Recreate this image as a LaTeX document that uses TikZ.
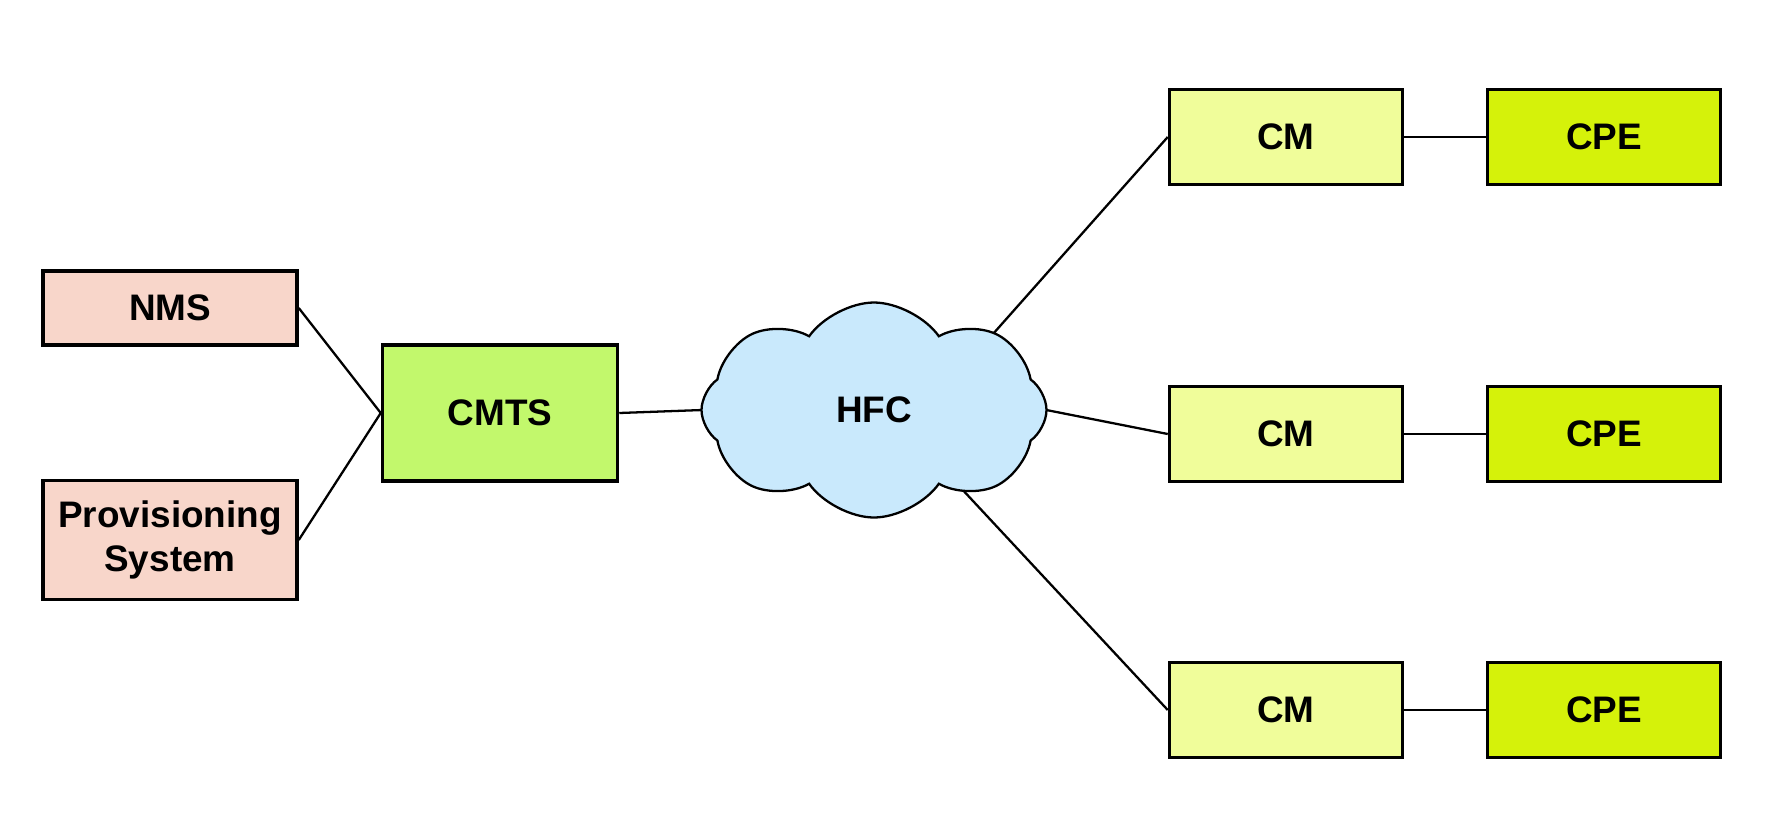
\documentclass[tikz,border=0pt]{standalone}
\usepackage{fontspec}
\setmainfont{Liberation Sans}
\usetikzlibrary{shapes.symbols,backgrounds}
\definecolor{mgmtpink}{HTML}{F8D6CA}
\definecolor{cmtsgreen}{HTML}{C2F86C}
\definecolor{hfcblue}{HTML}{C9E9FC}
\definecolor{cmyellow}{HTML}{F0FD9A}
\definecolor{cpegreen}{HTML}{D5F20A}
\tikzset{
    box/.style={draw,line width=1pt,align=center,inner sep=0pt,font=\fontsize{10.5}{12.6}\selectfont\bfseries},
    cmbox/.style={box,fill=cmyellow,minimum width=2.33cm,minimum height=0.95cm},
    cpebox/.style={box,fill=cpegreen,minimum width=2.33cm,minimum height=0.95cm},
    link/.style={line width=0.65pt}
}
\begin{document}
\begin{tikzpicture}
    \useasboundingbox (0,0) rectangle (17.72,8.33);
    \node[box,fill=mgmtpink,minimum width=2.54cm,minimum height=0.74cm] (nms) at (1.70,5.25) {NMS};
    \node[box,fill=mgmtpink,minimum width=2.54cm,minimum height=1.19cm] (prov) at (1.70,2.93) {Provisioning\\System};
    \node[box,fill=cmtsgreen,minimum width=2.35cm,minimum height=1.36cm] (cmts) at (5.00,4.20) {CMTS};
    \node[cloud,cloud puffs=8,cloud puff arc=110,draw,line width=0.65pt,fill=hfcblue,inner sep=0pt,minimum width=3.45cm,minimum height=2.15cm,font=\fontsize{10.5}{12.6}\selectfont\bfseries] (hfc) at (8.74,4.23) {HFC};
    \node[cmbox] (cm1) at (12.86,6.96) {CM};
    \node[cmbox] (cm2) at (12.86,3.99) {CM};
    \node[cmbox] (cm3) at (12.86,1.23) {CM};
    \node[cpebox] (cpe1) at (16.04,6.96) {CPE};
    \node[cpebox] (cpe2) at (16.04,3.99) {CPE};
    \node[cpebox] (cpe3) at (16.04,1.23) {CPE};
    % points just inside the cloud
    \coordinate (hfcw) at (7.30,4.24);
    \coordinate (hfcne) at (9.77,4.81);
    \coordinate (hfce) at (10.16,4.29);
    \coordinate (hfcse) at (9.46,3.61);
    \draw[link] (nms.east) -- (cmts.west);
    \draw[link] (prov.east) -- (cmts.west);
    \draw[link] (cm1.east) -- (cpe1.west);
    \draw[link] (cm2.east) -- (cpe2.west);
    \draw[link] (cm3.east) -- (cpe3.west);
    \begin{scope}[on background layer]
        \draw[link] (cmts.east) -- (hfcw);
        \draw[link] (hfcne) -- (cm1.west);
        \draw[link] (hfce) -- (cm2.west);
        \draw[link] (hfcse) -- (cm3.west);
    \end{scope}
\end{tikzpicture}
\end{document}
